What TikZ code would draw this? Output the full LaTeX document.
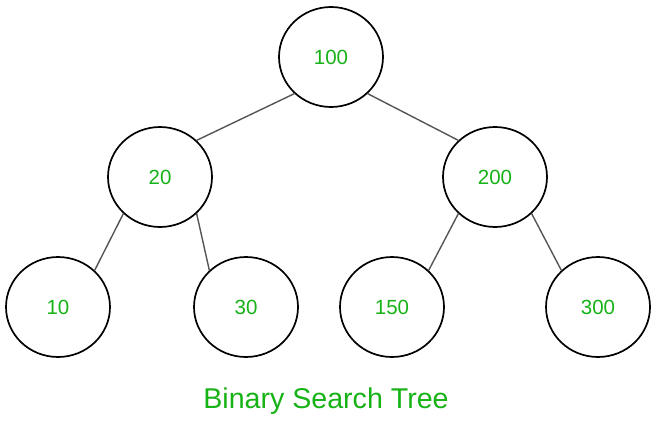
\documentclass[tikz,border=0pt]{standalone}
\usepackage{fontspec}
\setmainfont{Liberation Sans}
\usetikzlibrary{shapes.geometric}
\definecolor{keygreen}{RGB}{22,178,22}
\definecolor{edgegray}{RGB}{85,85,85}
\begin{document}
\begin{tikzpicture}[x=1pt,y=-1pt,
  treenode/.style={ellipse, draw=black, line width=1.7pt, fill=white,
    minimum width=104pt, minimum height=100pt, inner sep=0pt,
    text=keygreen, font=\fontsize{20.5}{24}\selectfont},
  treeedge/.style={draw=edgegray, line width=1.4pt},
  caption/.style={text=keygreen, font=\fontsize{28.6}{34}\selectfont}]
\useasboundingbox (0,0) rectangle (660,431);
% keys of the tree
\node[treenode] (n100) at (331,57)  {100};
\node[treenode] (n20)  at (160,177) {20};
\node[treenode] (n200) at (495,177) {200};
\node[treenode] (n10)  at (58,307)  {10};
\node[treenode] (n30)  at (246,307) {30};
\node[treenode] (n150) at (392,307) {150};
\node[treenode] (n300) at (598,307) {300};
% parent-child links
\draw[treeedge] (n100.225) -- (n20.45);
\draw[treeedge] (n100.315) -- (n200.135);
\draw[treeedge] (n20.225)  -- (n10.45);
\draw[treeedge] (n20.315)  -- (n30.135);
\draw[treeedge] (n200.225) -- (n150.45);
\draw[treeedge] (n200.315) -- (n300.135);
% title
\node[caption] (title) at (326,401) {Binary Search Tree};
\end{tikzpicture}
\end{document}
